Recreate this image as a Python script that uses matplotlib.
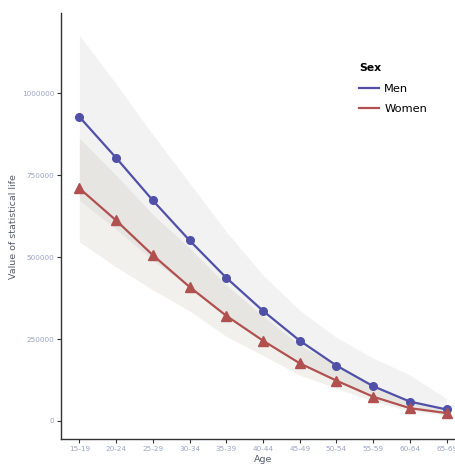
import matplotlib
matplotlib.use("Agg")
import matplotlib.pyplot as plt
from matplotlib.lines import Line2D

ages = ["15-19", "20-24", "25-29", "30-34", "35-39", "40-44",
        "45-49", "50-54", "55-59", "60-64", "65-69"]
men = [928000, 803000, 673000, 551000, 437000, 336000, 245000, 169000, 106000, 59000, 35000]
men_upper = [1177000, 1029000, 874000, 726000, 578000, 445000, 338000, 255000, 192000, 140000, 68000]
men_lower = [673000, 585000, 490000, 410000, 325000, 250000, 183000, 126000, 80000, 44000, 25000]
women = [710000, 612000, 506000, 409000, 321000, 245000, 176000, 123000, 74000, 39000, 24000]
women_upper = [863000, 750000, 630000, 528000, 415000, 320000, 232000, 170000, 110000, 62000, 36000]
women_lower = [547000, 470000, 400000, 336000, 258000, 200000, 140000, 100000, 60000, 30000, 18000]

fig = plt.figure(figsize=(4.56, 4.65), dpi=100)
ax = fig.add_axes([61/456, (465-439.3)/465, 404/456, (439.3-13.3)/465])

x = list(range(len(ages)))
ax.fill_between(x, men_lower, men_upper, color="#c8c8c8", alpha=0.22, linewidth=0, zorder=1)
ax.fill_between(x, women_lower, women_upper, color="#bab4a6", alpha=0.2, linewidth=0, zorder=1)

men_c = "#5050a8"
women_c = "#b0504f"
ax.plot(x, men, color=men_c, lw=1.6, marker="o", ms=5.5, zorder=3)
ax.plot(x, women, color=women_c, lw=1.6, marker="^", ms=6.5, zorder=3)

ax.set_xlim(-0.5, 10.5)
ax.set_ylim(-56000, 1244000)
ax.set_xticks(x)
ax.set_xticklabels(ages)
ax.set_yticks([0, 250000, 500000, 750000, 1000000])
ax.set_yticklabels(["0", "250000", "500000", "750000", "1000000"])

for s in ["top", "right"]:
    ax.spines[s].set_visible(False)
for s in ["left", "bottom"]:
    ax.spines[s].set_color("#333333")
    ax.spines[s].set_linewidth(1.0)

tick_c = "#9aa3c8"
ax.tick_params(axis="both", colors="#333333", length=3, width=0.8,
               labelsize=5.2, labelcolor=tick_c, pad=2)

ax.set_xlabel("Age", fontsize=6.8, color="#555c6e", labelpad=2)
ax.set_ylabel("Value of statistical life", fontsize=6.8, color="#555c6e", labelpad=3)

handles = [Line2D([0], [0], color=men_c, lw=1.6),
           Line2D([0], [0], color=women_c, lw=1.6)]
leg = fig.legend(handles, ["Men", "Women"], title="Sex", loc="upper left",
                 bbox_to_anchor=(349/456, 1 - 53/465), frameon=False,
                 fontsize=8.2, title_fontsize=7.8, handlelength=1.7,
                 handletextpad=0.5, labelspacing=0.9)
leg.get_title().set_fontweight("bold")
leg._legend_box.align = "left"

fig.savefig("out.png", dpi=100)
